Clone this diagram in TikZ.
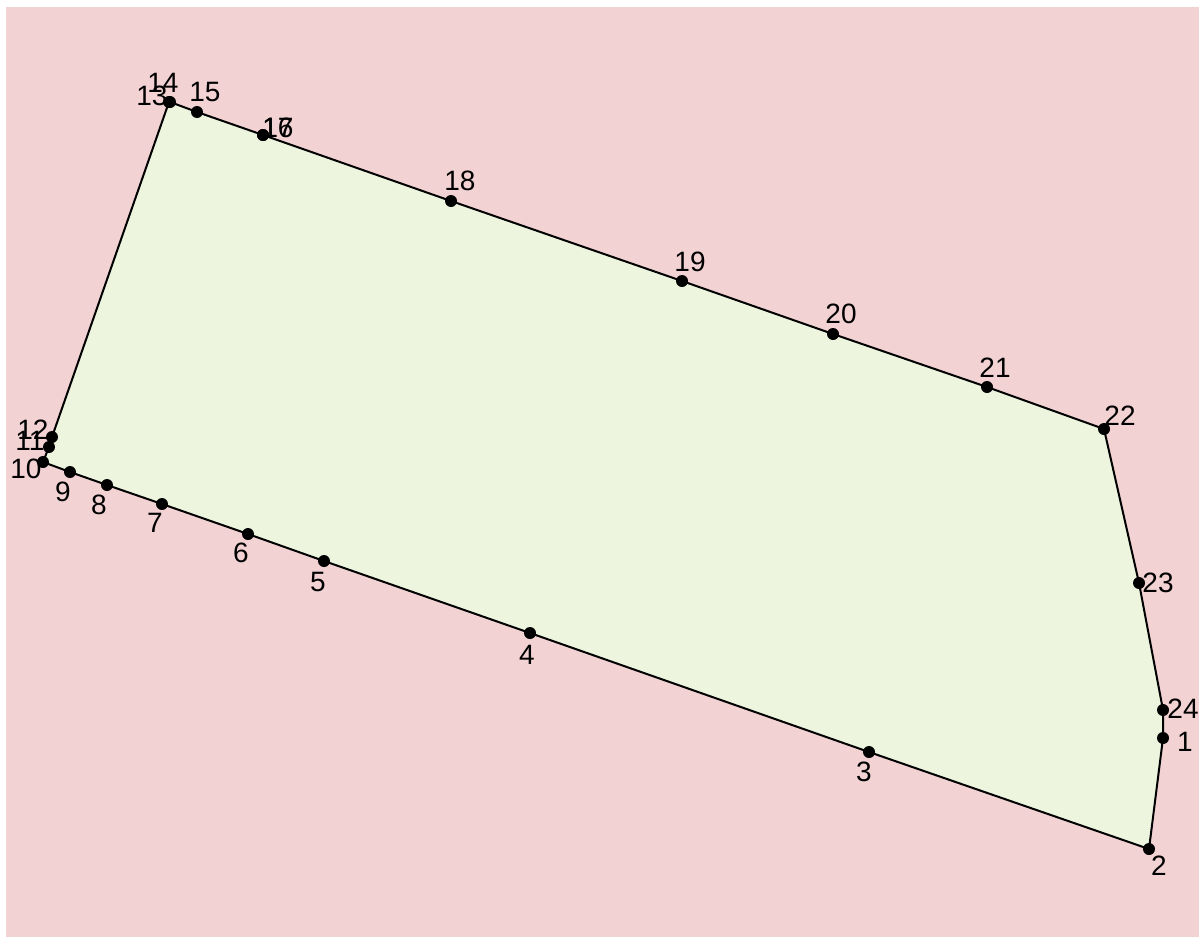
\documentclass[tikz,border=0pt]{standalone}
\usepackage{fontspec}
\setmainfont{Liberation Sans}
\definecolor{bgpink}{RGB}{242,210,210}
\definecolor{polygreen}{RGB}{237,245,223}
\begin{document}
\begin{tikzpicture}[x=1pt,y=-1pt,
  dot/.style={circle,fill=black,inner sep=0pt,minimum size=12pt},
  lab/.style={inner sep=0pt,font=\fontsize{28}{28}\selectfont}]
\useasboundingbox (0,0) rectangle (1203,937);
\fill[bgpink] (6,7) rectangle (1199,937);
\coordinate (p1) at (1163,738);
\coordinate (p2) at (1149,849);
\coordinate (p3) at (869,752);
\coordinate (p4) at (530,633);
\coordinate (p5) at (324,561);
\coordinate (p6) at (248,534);
\coordinate (p7) at (162,504);
\coordinate (p8) at (107,485);
\coordinate (p9) at (70,472);
\coordinate (p10) at (43,462);
\coordinate (p11) at (49,447);
\coordinate (p12) at (52,437);
\coordinate (p13) at (169,102);
\coordinate (p14) at (170,102);
\coordinate (p15) at (197,112);
\coordinate (p16) at (263,135);
\coordinate (p17) at (263,135);
\coordinate (p18) at (451,201);
\coordinate (p19) at (682,281);
\coordinate (p20) at (833,334);
\coordinate (p21) at (987,387);
\coordinate (p22) at (1104,429);
\coordinate (p23) at (1139,583);
\coordinate (p24) at (1163,710);
\draw[fill=polygreen,line width=2pt,line join=round] (p1) -- (p2) -- (p3) -- (p4) -- (p5) -- (p6) -- (p7) -- (p8) -- (p9) -- (p10) -- (p11) -- (p12) -- (p13) -- (p14) -- (p15) -- (p16) -- (p17) -- (p18) -- (p19) -- (p20) -- (p21) -- (p22) -- (p23) -- (p24) -- cycle;
\foreach \i in {1,...,24} { \node[dot] (d\i) at (p\i) {}; }
\node[lab] (l1) at (1185,742) {1};
\node[lab] (l2) at (1159,866) {2};
\node[lab] (l3) at (864,772) {3};
\node[lab] (l4) at (527,655) {4};
\node[lab] (l5) at (318,582) {5};
\node[lab] (l6) at (241,553) {6};
\node[lab] (l7) at (155,523) {7};
\node[lab] (l8) at (99,505) {8};
\node[lab] (l9) at (63,492) {9};
\node[lab] (l10) at (26,469) {10};
\node[lab] (l11) at (30,441) {11};
\node[lab] (l12) at (33,430) {12};
\node[lab] (l13) at (152,96) {13};
\node[lab] (l14) at (163,83) {14};
\node[lab] (l15) at (205,92) {15};
\node[lab] (l16) at (278,128) {16};
\node[lab] (l17) at (278,128) {17};
\node[lab] (l18) at (460,181) {18};
\node[lab] (l19) at (690,262) {19};
\node[lab] (l20) at (841,314) {20};
\node[lab] (l21) at (995,368) {21};
\node[lab] (l22) at (1120,416) {22};
\node[lab] (l23) at (1158,583) {23};
\node[lab] (l24) at (1183,709) {24};
\end{tikzpicture}
\end{document}
